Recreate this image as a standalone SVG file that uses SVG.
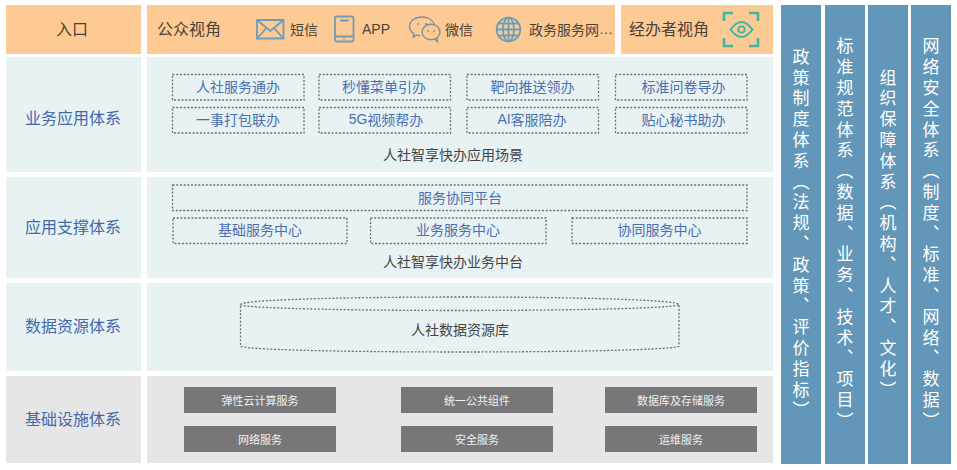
<svg xmlns="http://www.w3.org/2000/svg" width="957" height="470" viewBox="0 0 957 470">
  <style>
    text { font-family: "Noto Sans CJK SC", "Liberation Sans", sans-serif; dominant-baseline: central; }
    .latin { font-family: "Liberation Sans", "Noto Sans CJK SC", sans-serif; }
    .orange { fill: #fdca94; }
    .pale { fill: #e8f2f3; }
    .grey { fill: #e6e6e6; }
    .pillar { fill: #6297b9; }
    .tile { fill: #77777a; }
    .dash { fill: none; stroke: #6f6f73; stroke-width: 1.3; stroke-dasharray: 2 1.7; }
    .layer { font-size: 16px; fill: #4469ab; text-anchor: middle; }
    .head { font-size: 16px; fill: #4b433a; }
    .chan { font-size: 14px; fill: #4b433a; }
    .item { font-size: 14px; fill: #4a6fb2; text-anchor: middle; }
    .cap { font-size: 14px; fill: #444; text-anchor: middle; }
    .tiletext { font-size: 11px; fill: #f0f0f0; text-anchor: middle; }
    .vert { font-size: 17px; fill: #fff; text-anchor: middle; writing-mode: vertical-rl; letter-spacing: 3.8px; }
    .icon { fill: none; stroke: #6d9dba; stroke-width: 1.8; stroke-linejoin: round; stroke-linecap: round; }
    .iconthin { fill: none; stroke: #7696a6; stroke-width: 1.4; }
    .eye { fill: none; stroke: #3fb6a0; stroke-width: 2.6; }
  </style>

  <g id="entry">
    <rect class="orange" x="6" y="5" width="135" height="49"/>
    <text class="head" x="56" y="28">入口</text>
  </g>

  <g id="public-view">
    <rect class="orange" x="147" y="5" width="468" height="49"/>
    <text class="head" x="157" y="28">公众视角</text>
    <g id="channel-sms">
      <rect class="icon" x="257" y="20" width="26.500" height="18.500"/>
      <path class="icon" d="M257 20l13.300 11 13.200-11M257 38.500l9.500-10.500M283.500 38.500l-9.500-10.500"/>
      <text class="chan" x="290" y="29">短信</text>
    </g>
    <g id="channel-app">
      <rect class="icon" x="335" y="16.500" width="18.500" height="25" rx="1.500"/>
      <path class="icon" d="M335 36.500h18.500M341 20.500h7" stroke-width="1.200"/>
      <circle cx="344" cy="39" r="0.800" fill="#6d9dba"/>
      <text class="chan latin" x="362" y="29">APP</text>
    </g>
    <g id="channel-wechat">
      <path class="iconthin" d="M422 17c-7.300 0-12.500 4.300-12.500 9.500 0 3.100 1.800 5.600 4.600 7.300l-1 3.200 3.700-1.900c1.100 0.300 2.400 0.500 3.600 0.500"/>
      <path class="iconthin" d="M422 17c6 0 10.800 3 12.200 7.200"/>
      <ellipse class="iconthin" cx="431" cy="32" rx="9" ry="7.800"/>
      <path class="iconthin" d="M435 39l2.500 2.800-0.200-4.200"/>
      <circle cx="418" cy="24" r="1" fill="#7696a6"/>
      <circle cx="426" cy="24" r="1" fill="#7696a6"/>
      <circle cx="428" cy="31" r="0.900" fill="#7696a6"/>
      <circle cx="434" cy="31" r="0.900" fill="#7696a6"/>
      <text class="chan" x="445" y="29">微信</text>
    </g>
    <g id="channel-portal">
      <circle class="icon" cx="508.500" cy="29.500" r="11.800" stroke-width="2"/>
      <ellipse class="icon" cx="508.500" cy="29.500" rx="5.500" ry="11.800" stroke-width="1.800"/>
      <path class="icon" d="M508.500 17.700v23.600M496.700 29.500h23.600M498.500 23.500h20M498.500 35.500h20" stroke-width="1.800"/>
      <text class="chan" x="529" y="29">政务服务网<tspan class="latin">…</tspan></text>
    </g>
  </g>

  <g id="staff-view">
    <rect class="orange" x="621" y="5" width="152" height="49"/>
    <text class="head" x="629" y="28">经办者视角</text>
    <path class="eye" d="M724 21v-8h9M749 13h9v8M724 38v8h9M749 46h9v-8"/>
    <path d="M730.500 29.500c4-5.300 8-7.500 11-7.500s7 2.200 11 7.500c-4 5.300-8 7.500-11 7.500s-7-2.200-11-7.500z" fill="none" stroke="#3fb6a0" stroke-width="2"/>
    <circle cx="741.500" cy="29.500" r="3.200" fill="none" stroke="#3fb6a0" stroke-width="1.800"/>
  </g>

  <g id="business-apps">
    <rect class="pale" x="6" y="57" width="135" height="115"/>
    <text class="layer" x="73" y="117">业务应用体系</text>
    <rect class="pale" x="147" y="57" width="626" height="115"/>
    <g id="app-scenes">
      <rect class="dash" x="172.500" y="74.500" width="131.500" height="25.500"/>
      <text class="item" x="238" y="86">人社服务通办</text>
      <rect class="dash" x="319" y="74.500" width="131.500" height="25.500"/>
      <text class="item" x="384" y="86">秒懂菜单引办</text>
      <rect class="dash" x="467" y="74.500" width="131.500" height="25.500"/>
      <text class="item" x="532.500" y="86">靶向推送领办</text>
      <rect class="dash" x="615.500" y="74.500" width="131.500" height="25.500"/>
      <text class="item" x="683.500" y="86">标准问卷导办</text>
      <rect class="dash" x="172.500" y="107.500" width="131.500" height="25.500"/>
      <text class="item" x="238" y="119">一事打包联办</text>
      <rect class="dash" x="319" y="107.500" width="131.500" height="25.500"/>
      <text class="item" x="386" y="119"><tspan class="latin">5G</tspan>视频帮办</text>
      <rect class="dash" x="467" y="107.500" width="131.500" height="25.500"/>
      <text class="item" x="532" y="119"><tspan class="latin">AI</tspan>客服陪办</text>
      <rect class="dash" x="615.500" y="107.500" width="131.500" height="25.500"/>
      <text class="item" x="683.500" y="119">贴心秘书助办</text>
    </g>
    <text class="cap" x="453" y="154">人社智享快办应用场景</text>
  </g>

  <g id="app-support">
    <rect class="pale" x="6" y="177" width="135" height="101"/>
    <text class="layer" x="73" y="226">应用支撑体系</text>
    <rect class="pale" x="147" y="177" width="626" height="101"/>
    <rect class="dash" x="172.500" y="185" width="574.500" height="25.500"/>
    <text class="item" x="460" y="197">服务协同平台</text>
    <rect class="dash" x="173" y="218" width="174" height="25.500"/>
    <text class="item" x="260" y="229">基础服务中心</text>
    <rect class="dash" x="370.500" y="218" width="175.500" height="25.500"/>
    <text class="item" x="458" y="229">业务服务中心</text>
    <rect class="dash" x="572" y="218" width="175" height="25.500"/>
    <text class="item" x="659.500" y="229">协同服务中心</text>
    <text class="cap" x="453" y="261">人社智享快办业务中台</text>
  </g>

  <g id="data-resources">
    <rect class="pale" x="6" y="283" width="135" height="88"/>
    <text class="layer" x="73" y="325">数据资源体系</text>
    <rect class="pale" x="147" y="283" width="626" height="88"/>
    <path class="dash" d="M240.500 304.500C240.500 300 338 297 459.500 297S679 300 679 304.500V346C679 349.500 581 352 459.500 352S240.500 349.500 240.500 346Z"/>
    <path class="dash" d="M240.500 304.500C240.500 308 338 310.500 459.500 310.500S679 308 679 304.500"/>
    <text class="cap" x="460" y="329">人社数据资源库</text>
  </g>

  <g id="infrastructure">
    <rect class="grey" x="6" y="376" width="135" height="87"/>
    <text class="layer" x="73" y="418">基础设施体系</text>
    <rect class="grey" x="147" y="376" width="626" height="87"/>
    <rect class="tile" x="184" y="387" width="152" height="26"/>
    <text class="tiletext" x="260" y="399.500">弹性云计算服务</text>
    <rect class="tile" x="401" y="387" width="152" height="26"/>
    <text class="tiletext" x="477" y="399.500">统一公共组件</text>
    <rect class="tile" x="605" y="387" width="152" height="26"/>
    <text class="tiletext" x="681" y="399.500">数据库及存储服务</text>
    <rect class="tile" x="184" y="426" width="152" height="26"/>
    <text class="tiletext" x="260" y="438.500">网络服务</text>
    <rect class="tile" x="401" y="426" width="152" height="26"/>
    <text class="tiletext" x="477" y="438.500">安全服务</text>
    <rect class="tile" x="605" y="426" width="152" height="26"/>
    <text class="tiletext" x="681" y="438.500">运维服务</text>
  </g>

  <g id="policy-system">
    <rect class="pillar" x="781" y="5" width="40" height="459"/>
    <text class="vert" x="801" y="235">政策制度体系（法规、政策、评价指标）</text>
  </g>
  <g id="standards-system">
    <rect class="pillar" x="825" y="5" width="40" height="459"/>
    <text class="vert" x="845" y="235">标准规范体系（数据、业务、技术、项目）</text>
  </g>
  <g id="organisation-system">
    <rect class="pillar" x="868" y="5" width="40" height="459"/>
    <text class="vert" x="888" y="235">组织保障体系（机构、人才、文化）</text>
  </g>
  <g id="security-system">
    <rect class="pillar" x="911" y="5" width="40" height="459"/>
    <text class="vert" x="931" y="235">网络安全体系（制度、标准、网络、数据）</text>
  </g>
</svg>
